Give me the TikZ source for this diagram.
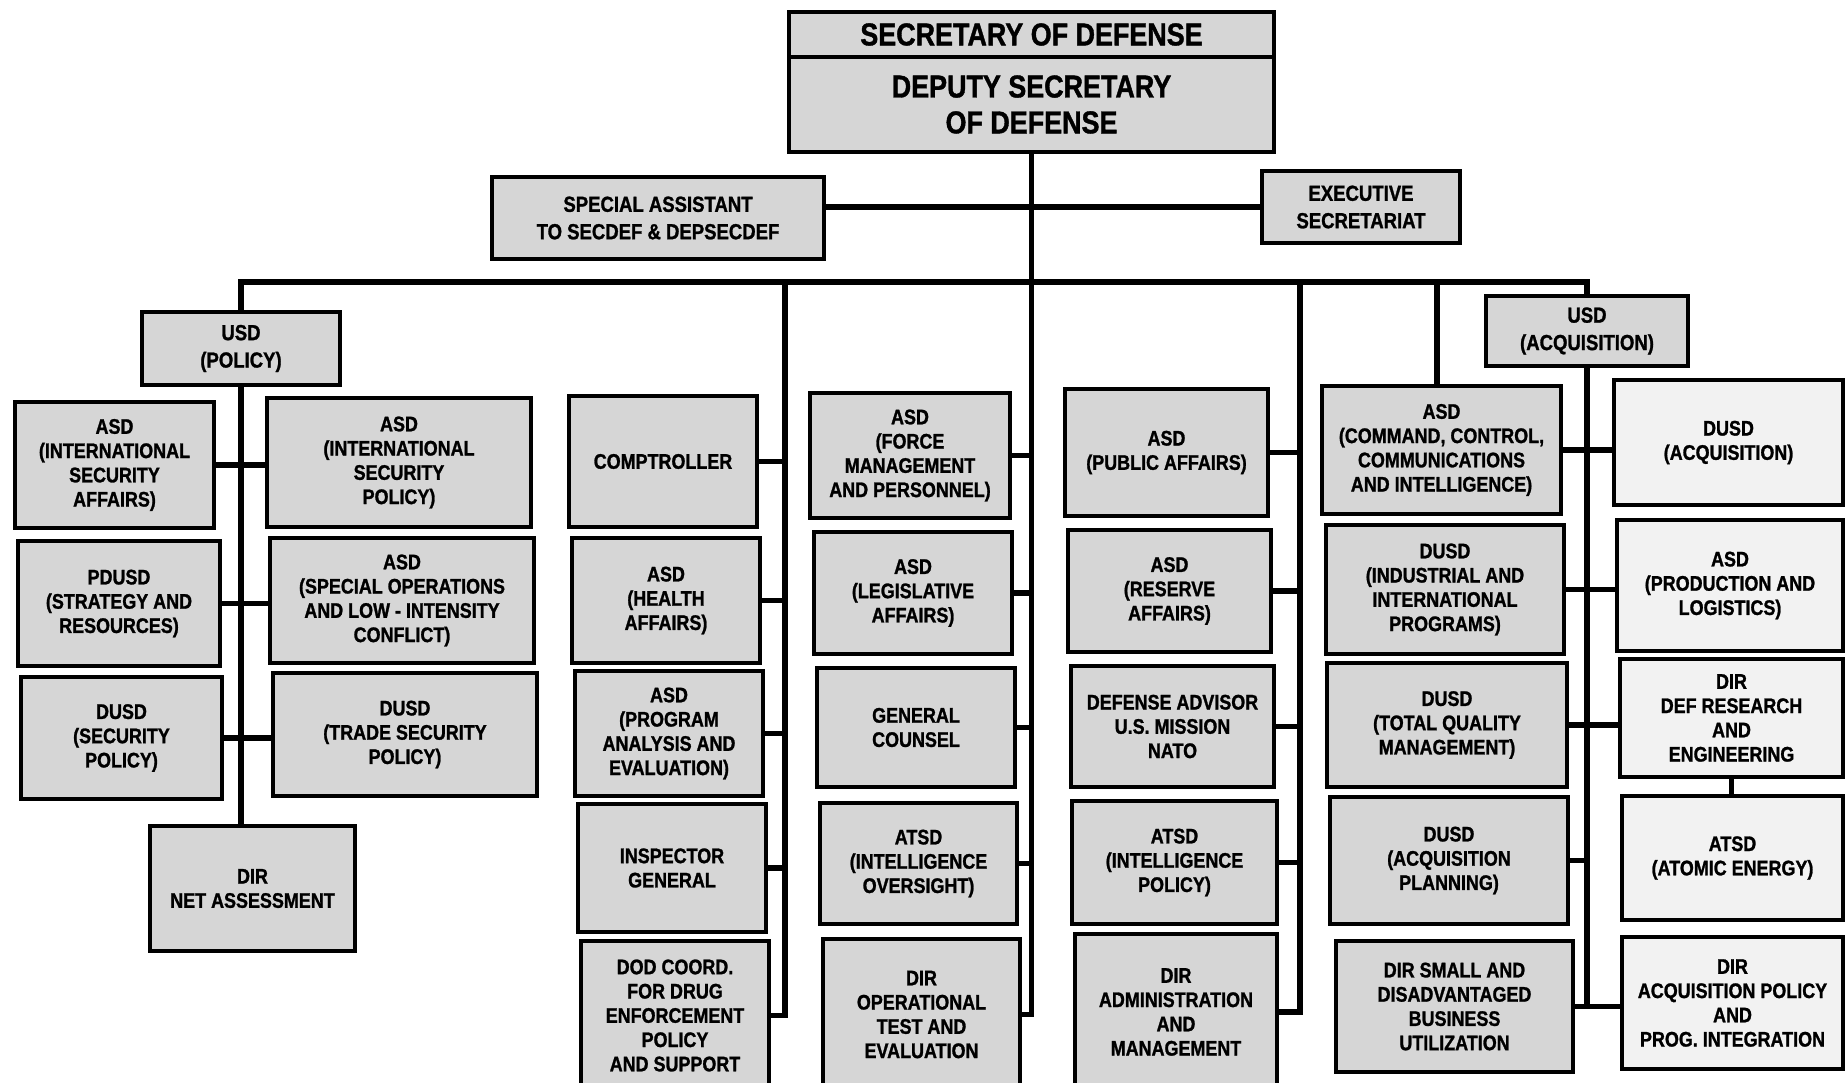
\documentclass[tikz,border=0pt]{standalone}
\usepackage{fontspec}
\setmainfont{Liberation Sans}[FakeStretch=0.85, BoldFeatures={FakeBold=1.2}]
\begin{document}
\begin{tikzpicture}[x=0.01cm,y=-0.01cm]
\tikzset{
  box/.style={draw, line width=1.1pt, fill=black!16, align=center, inner sep=1pt,
    font=\bfseries\fontsize{6}{6.9}\selectfont},
  lightbox/.style={fill=black!5},
  bigtext/.style={font=\bfseries\fontsize{9}{10.2}\selectfont},
  midtext/.style={font=\bfseries\fontsize{6.2}{7.8}\selectfont},
  conn/.style={line width=1.5pt},
}
\newcommand\orgbox[7][]{\node[box,minimum width={(#5-#3)*0.28453pt},minimum height={(#6-#4)*0.28453pt},#1] (#2) at ({(#3+#5)/2},{(#4+#6)/2}) {#7};}
\useasboundingbox (0,0) rectangle (1846,1082);
\fill[white] (0,0) rectangle (1846,1082);

% top
\orgbox[bigtext]{secdef}{789}{12}{1274}{57}{SECRETARY OF DEFENSE}
\orgbox[bigtext]{depsec}{789}{57}{1274}{152}{DEPUTY SECRETARY\\OF DEFENSE}
\orgbox[midtext]{sa}{492}{177}{824}{259}{SPECIAL ASSISTANT\\TO SECDEF \& DEPSECDEF}
\orgbox[midtext]{exec}{1262}{171}{1460}{243}{EXECUTIVE\\SECRETARIAT}
\orgbox[midtext]{usdp}{142}{312}{340}{385}{USD\\(POLICY)}
\orgbox[midtext]{usda}{1486}{296}{1688}{366}{USD\\(ACQUISITION)}

% column 1
\orgbox{isa}{15}{402}{214}{528}{ASD\\(INTERNATIONAL\\SECURITY\\AFFAIRS)}
\orgbox{sr}{18}{541}{220}{666}{PDUSD\\(STRATEGY AND\\RESOURCES)}
\orgbox{sp}{21}{677}{222}{799}{DUSD\\(SECURITY\\POLICY)}
\orgbox{isp}{267}{398}{531}{527}{ASD\\(INTERNATIONAL\\SECURITY\\POLICY)}
\orgbox{solic}{270}{538}{534}{663}{ASD\\(SPECIAL OPERATIONS\\AND LOW - INTENSITY\\CONFLICT)}
\orgbox{tsp}{273}{673}{537}{796}{DUSD\\(TRADE SECURITY\\POLICY)}
\orgbox{na}{150}{826}{355}{951}{DIR\\NET ASSESSMENT}

% column 2
\orgbox{comp}{569}{396}{757}{527}{COMPTROLLER}
\orgbox{ha}{572}{538}{760}{663}{ASD\\(HEALTH\\AFFAIRS)}
\orgbox{pae}{575}{671}{763}{796}{ASD\\(PROGRAM\\ANALYSIS AND\\EVALUATION)}
\orgbox{ig}{578}{804}{766}{932}{INSPECTOR\\GENERAL}
\orgbox{dod}{581}{941}{769}{1090}{DOD COORD.\\FOR DRUG\\ENFORCEMENT\\POLICY\\AND SUPPORT}

% column 3
\orgbox{fm}{810}{393}{1010}{518}{ASD\\(FORCE\\MANAGEMENT\\AND PERSONNEL)}
\orgbox{leg}{814}{532}{1012}{654}{ASD\\(LEGISLATIVE\\AFFAIRS)}
\orgbox{gc}{817}{668}{1015}{787}{GENERAL\\COUNSEL}
\orgbox{io}{820}{803}{1017}{924}{ATSD\\(INTELLIGENCE\\OVERSIGHT)}
\orgbox{ote}{823}{939}{1020}{1090}{DIR\\OPERATIONAL\\TEST AND\\EVALUATION}

% column 4
\orgbox{pa}{1065}{389}{1268}{516}{ASD\\(PUBLIC AFFAIRS)}
\orgbox{ra}{1068}{530}{1271}{652}{ASD\\(RESERVE\\AFFAIRS)}
\orgbox{nato}{1071}{666}{1274}{787}{DEFENSE ADVISOR\\U.S. MISSION\\NATO}
\orgbox{ip}{1072}{801}{1277}{924}{ATSD\\(INTELLIGENCE\\POLICY)}
\orgbox{dam}{1075}{934}{1277}{1090}{DIR\\ADMINISTRATION\\AND\\MANAGEMENT}

% column 5
\orgbox{c3i}{1322}{386}{1561}{514}{ASD\\(COMMAND, CONTROL,\\COMMUNICATIONS\\AND INTELLIGENCE)}
\orgbox{iip}{1326}{525}{1564}{654}{DUSD\\(INDUSTRIAL AND\\INTERNATIONAL\\PROGRAMS)}
\orgbox{tqm}{1327}{663}{1567}{787}{DUSD\\(TOTAL QUALITY\\MANAGEMENT)}
\orgbox{ap}{1330}{797}{1568}{924}{DUSD\\(ACQUISITION\\PLANNING)}
\orgbox{sadbu}{1336}{941}{1573}{1072}{DIR SMALL AND\\DISADVANTAGED\\BUSINESS\\UTILIZATION}

% column 6
\orgbox[lightbox]{dusdacq}{1614}{380}{1843}{505}{DUSD\\(ACQUISITION)}
\orgbox[lightbox]{pl}{1617}{520}{1843}{651}{ASD\\(PRODUCTION AND\\LOGISTICS)}
\orgbox[lightbox]{ddre}{1620}{659}{1843}{777}{DIR\\DEF RESEARCH\\AND\\ENGINEERING}
\orgbox[lightbox]{ae}{1622}{796}{1843}{920}{ATSD\\(ATOMIC ENERGY)}
\orgbox[lightbox]{api}{1622}{937}{1843}{1069}{DIR\\ACQUISITION POLICY\\AND\\PROG. INTEGRATION}

% bus coordinates
\coordinate (b1) at (241,282);
\coordinate (b2) at (785,282);
\coordinate (b4) at (1300,282);
\coordinate (b5) at (1437,282);
\coordinate (b6) at (1587,282);

% connectors
\draw[conn] (depsec.south) -- (depsec.south |- ote.east) -- (ote.east);
\draw[conn] (sa.east |- exec.west) -- (exec.west);
\draw[conn] (b1 |- usdp.north) -- (b1) -- (b6) -- (usda.north);
\draw[conn] (b1 |- usdp.south) -- (b1 |- na.north);
\draw[conn] (isa.east) -- (isa.east -| isp.west);
\draw[conn] (sr.east) -- (sr.east -| solic.west);
\draw[conn] (sp.east) -- (sp.east -| tsp.west);

\draw[conn] (b2) -- (b2 |- dod.east) -- (dod.east);
\foreach \n in {comp,ha,pae,ig} \draw[conn] (\n.east) -- (\n.east -| b2);

\foreach \n in {fm,leg,gc,io} \draw[conn] (\n.east) -- (\n.east -| depsec.south);

\draw[conn] (b4) -- (b4 |- dam.east) -- (dam.east);
\foreach \n in {pa,ra,nato,ip} \draw[conn] (\n.east) -- (\n.east -| b4);

\draw[conn] (b5) -- (b5 |- c3i.north);

\draw[conn] (usda.south) -- (usda.south |- sadbu.east);
\draw[conn] (c3i.east) -- (c3i.east -| dusdacq.west);
\draw[conn] (iip.east) -- (iip.east -| pl.west);
\draw[conn] (tqm.east) -- (tqm.east -| ddre.west);
\draw[conn] (ap.east) -- (ap.east -| usda.south);
\draw[conn] (sadbu.east) -- (sadbu.east -| api.west);
\draw[conn] (ddre.south) -- (ddre.south |- ae.north);
\end{tikzpicture}
\end{document}
